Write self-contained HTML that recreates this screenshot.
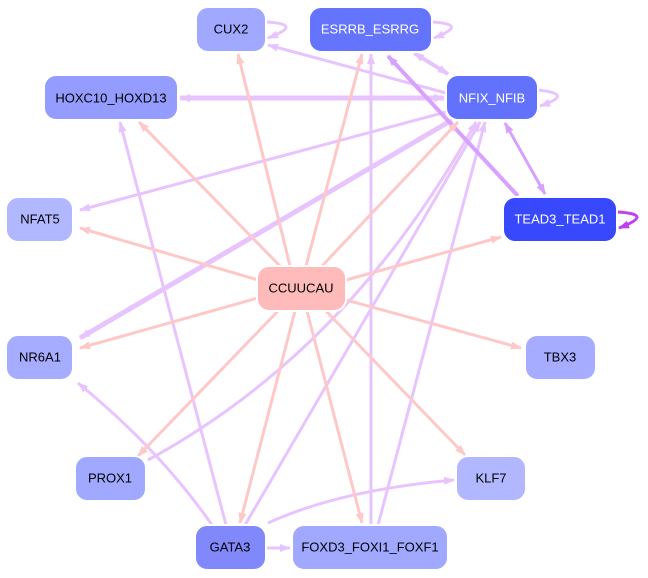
<!DOCTYPE html><html><head><style>body{margin:0;background:#fff}svg{display:block}text{font-family:"Liberation Sans",sans-serif;font-size:13px;text-anchor:middle;dominant-baseline:central}</style></head><body>
<svg width="648" height="578" viewBox="0 0 648 578">
<defs>
<marker id="p" markerWidth="11" markerHeight="8" refX="10" refY="4" orient="auto" markerUnits="userSpaceOnUse"><path d="M0,0L11,4L0,8z" fill="#ffc8c8"/></marker>
<marker id="v" markerWidth="11" markerHeight="8" refX="10" refY="4" orient="auto-start-reverse" markerUnits="userSpaceOnUse"><path d="M0,0L11,4L0,8z" fill="#e8c4ff"/></marker>
<marker id="d" markerWidth="11" markerHeight="8" refX="10" refY="4" orient="auto-start-reverse" markerUnits="userSpaceOnUse"><path d="M0,0L11,4L0,8z" fill="#d8a0ff"/></marker>
<marker id="k" markerWidth="11" markerHeight="8" refX="10" refY="4" orient="auto" markerUnits="userSpaceOnUse"><path d="M0,0L11,4L0,8z" fill="#c040f0"/></marker>
</defs>
<g fill="none" stroke="#e8c4ff" stroke-width="3">
<path d="M446,93L268,45" marker-end="url(#v)"/>
<path d="M414,53L448,74" marker-start="url(#v)" marker-end="url(#v)" stroke-width="4"/>
<path d="M444,98L180,98" marker-start="url(#v)" marker-end="url(#v)" stroke-width="5"/>
<path d="M446,112L80,210" marker-end="url(#v)"/>
<path d="M452,120L80,338" marker-end="url(#v)" stroke-width="5"/>
<path d="M226,525L120,122" marker-end="url(#v)"/>
<path d="M212,525Q160,450 78,383" marker-end="url(#v)"/>
<path d="M245,525L480,122" marker-end="url(#v)"/>
<path d="M148,460Q350,350 476,122" marker-end="url(#v)"/>
<path d="M371,525L371,54" marker-end="url(#v)"/>
<path d="M378,525L485,122" marker-end="url(#v)"/>
<path d="M268,523Q340,490 454,480" marker-end="url(#v)"/>
<path d="M266,548L290,548" marker-end="url(#v)"/>
<path d="M432,22Q470,24 434,38" marker-end="url(#v)"/>
<path d="M266,22Q305,24 268,38" marker-end="url(#v)"/>
<path d="M538,90Q576,94 540,106" marker-end="url(#v)"/>
<path d="M505,123L545,194" marker-start="url(#d)" marker-end="url(#d)" stroke="#d8a0ff"/>
<path d="M518,196L388,56" marker-end="url(#d)" stroke="#d8a0ff" stroke-width="4"/>
<path d="M617,212Q656,214 619,228" marker-end="url(#k)" stroke="#c040f0"/>
</g>
<g fill="none" stroke="#ffc8c8" stroke-width="3" marker-end="url(#p)">
<path d="M290,266L238,54"/><path d="M306,266L362,54"/><path d="M280,266L139,122"/><path d="M322,266L458,122"/>
<path d="M258,280L80,228"/><path d="M346,280L501,237"/><path d="M258,298L80,348"/><path d="M346,300L521,348"/>
<path d="M278,311L138,456"/><path d="M326,311L465,455"/><path d="M295,311L240,523"/><path d="M307,311L362,523"/>
</g>
<g stroke="#fff" stroke-width="2">
<rect x="196" y="7" width="70" height="45" rx="12" fill="#a0a8ff"/>
<rect x="309" y="7" width="123" height="45" rx="12" fill="#6474fc"/>
<rect x="44" y="75" width="134" height="45" rx="12" fill="#949cff"/>
<rect x="446" y="75" width="92" height="45" rx="12" fill="#6272fc"/>
<rect x="6" y="197" width="67" height="45" rx="12" fill="#b2b8ff"/>
<rect x="503" y="197" width="114" height="45" rx="12" fill="#3848fc"/>
<rect x="257" y="266" width="89" height="45" rx="12" fill="#ffbaba"/>
<rect x="6" y="335" width="67" height="45" rx="12" fill="#a6acff"/>
<rect x="525" y="335" width="71" height="45" rx="12" fill="#a6acff"/>
<rect x="75" y="456" width="71" height="45" rx="12" fill="#a0a8ff"/>
<rect x="456" y="456" width="70" height="45" rx="12" fill="#b2b8ff"/>
<rect x="195" y="525" width="71" height="45" rx="12" fill="#8088fc"/>
<rect x="292" y="525" width="156" height="45" rx="12" fill="#a0a8ff"/>
</g>
<text x="231" y="29">CUX2</text><text x="370" y="29" fill="#fff">ESRRB_ESRRG</text>
<text x="111" y="98">HOXC10_HOXD13</text><text x="492" y="98" fill="#fff">NFIX_NFIB</text>
<text x="40" y="219">NFAT5</text><text x="560" y="219" fill="#fff">TEAD3_TEAD1</text>
<text x="301" y="288">CCUUCAU</text><text x="40" y="357">NR6A1</text><text x="560" y="357">TBX3</text>
<text x="110" y="478">PROX1</text><text x="491" y="478">KLF7</text>
<text x="230" y="547">GATA3</text><text x="370" y="547">FOXD3_FOXI1_FOXF1</text>
</svg></body></html>
